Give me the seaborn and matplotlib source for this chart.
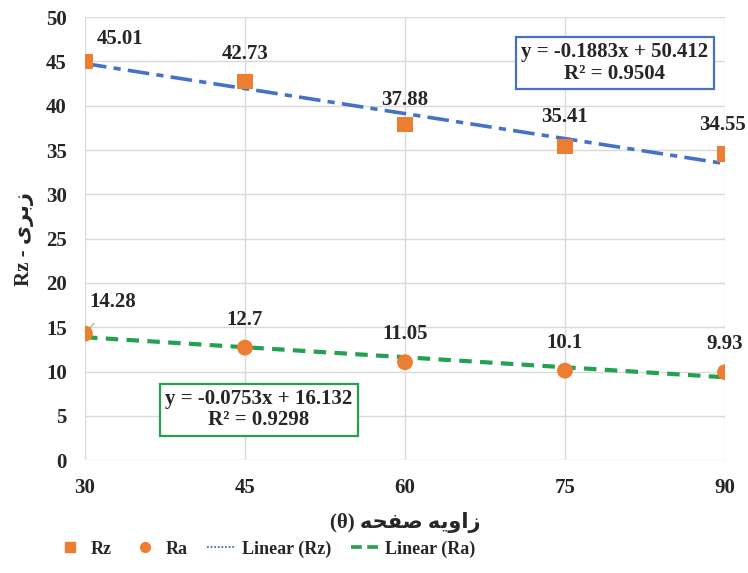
import numpy as np
import pandas as pd
import matplotlib
matplotlib.use("Agg")
import matplotlib.pyplot as plt
import seaborn as sns
from matplotlib.lines import Line2D

# data
angles = [30, 45, 60, 75, 90]
rz_values = [45.01, 42.73, 37.88, 35.41, 34.55]
ra_values = [14.28, 12.7, 11.05, 10.1, 9.93]
rz_labels = ["45.01", "42.73", "37.88", "35.41", "34.55"]
ra_labels = ["14.28", "12.7", "11.05", "10.1", "9.93"]
rz_equation = "y = -0.1883x + 50.412\nR² = 0.9504"
ra_equation = "y = -0.0753x + 16.132\nR² = 0.9298"

# Persian labels written with presentation forms in visual order
x_title = "(θ) \uFEEA\uFEA4\uFED4\uFEBB \uFEEA\uFBFE\uFEED\uFE8D\uFEAF"
y_title = "Rz - \uFBFC\uFEAE\uFE91\uFEAF"

df = pd.DataFrame({"angle": angles, "Rz": rz_values, "Ra": ra_values})

sns.set_theme(style="whitegrid")
plt.rcParams["font.family"] = ["Liberation Serif", "DejaVu Sans"]
plt.rcParams["font.weight"] = "bold"

orange = "#ED7D31"
blue = "#4472C4"
green = "#23A150"
fs = 15

fig = plt.figure(figsize=(7.48, 5.73), dpi=100)
ax = fig.add_axes([0.1136, 0.197, 0.8556, 0.773])

# trend lines
sns.regplot(data=df, x="angle", y="Rz", ax=ax, scatter=False, ci=None,
            line_kws=dict(color=blue, lw=2.6, dashes=(6, 2, 2, 2)))
sns.regplot(data=df, x="angle", y="Ra", ax=ax, scatter=False, ci=None,
            line_kws=dict(color=green, lw=3, dashes=(3, 2)))

# markers
sns.scatterplot(data=df, x="angle", y="Rz", ax=ax, marker="s", s=120,
                color=orange, edgecolor="none", zorder=5)
sns.scatterplot(data=df, x="angle", y="Ra", ax=ax, marker="o", s=130,
                color=orange, edgecolor="none", zorder=5)

# data labels
rz_offsets = [(25, 16), (0, 20), (0, 18), (0, 21), (-2, 21)]
for xv, yv, lab, off in zip(angles, rz_values, rz_labels, rz_offsets):
    ax.annotate(lab, (xv, yv), xytext=off, textcoords="offset points",
                ha="center", va="center", fontsize=fs, fontweight="bold")
ax.annotate(ra_labels[0], (angles[0], ra_values[0]), xytext=(20, 23),
            textcoords="offset points", ha="center", va="center",
            fontsize=fs, fontweight="bold",
            arrowprops=dict(arrowstyle="-", color="#a6a6a6", lw=0.8,
                            shrinkA=8, shrinkB=5))
for xv, yv, lab in zip(angles[1:], ra_values[1:], ra_labels[1:]):
    ax.annotate(lab, (xv, yv), xytext=(0, 20), textcoords="offset points",
                ha="center", va="center", fontsize=fs, fontweight="bold")

# equation boxes
ax.text(0.828, 0.897, rz_equation, transform=ax.transAxes, ha="center",
        va="center", fontsize=fs, fontweight="bold", linespacing=1.1,
        bbox=dict(boxstyle="square,pad=0.25", fc="white", ec=blue, lw=1.6))
ax.text(0.272, 0.114, ra_equation, transform=ax.transAxes, ha="center",
        va="center", fontsize=fs, fontweight="bold", linespacing=1.1,
        bbox=dict(boxstyle="square,pad=0.25", fc="white", ec=green, lw=1.6))

ax.set_xlim(30, 90)
ax.set_ylim(0, 50)
ax.set_xticks(angles)
ax.set_yticks(range(0, 51, 5))
ax.tick_params(labelsize=fs, pad=7)
for t in ax.get_xticklabels() + ax.get_yticklabels():
    t.set_fontweight("bold")
ax.grid(color="#d9d9d9", lw=1)
for sp in ax.spines.values():
    sp.set_visible(False)

ax.set_xlabel(x_title, fontsize=fs, fontweight="bold", labelpad=10)
ax.set_ylabel(y_title, fontsize=fs, fontweight="bold", labelpad=9)

handles = [
    Line2D([], [], ls="none", marker="s", color=orange, markersize=7),
    Line2D([], [], ls="none", marker="o", color=orange, markersize=7),
    Line2D([], [], color=blue, lw=1.3, ls=(0, (1, 1))),
    Line2D([], [], color=green, lw=2.6, ls=(0, (3, 1.5))),
]
fig.legend(handles, ["Rz", "Ra", "Linear (Rz)", "Linear (Ra)"],
           loc="center", bbox_to_anchor=(0.355, 0.042), ncol=4, frameon=False,
           prop=dict(size=13, weight="bold"), handlelength=1.6,
           columnspacing=1.1, handletextpad=0.3)

fig.savefig("out.png", dpi=100)
